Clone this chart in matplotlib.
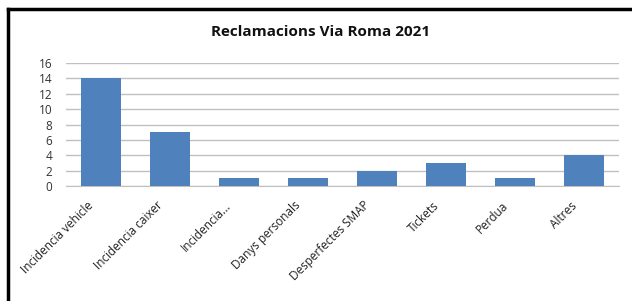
import matplotlib
matplotlib.use("Agg")
import matplotlib.pyplot as plt
from matplotlib.lines import Line2D
from matplotlib.transforms import ScaledTranslation, blended_transform_factory

categories = ["Incidencia vehicle", "Incidencia caixer", "Incidencia...",
              "Danys personals", "Desperfectes SMAP", "Tickets", "Perdua", "Altres"]
values = [14, 7, 1, 1, 2, 3, 1, 4]
yticks = [0, 2, 4, 6, 8, 10, 12, 14, 16]

plt.rcParams['font.family'] = ['Open Sans', 'DejaVu Sans']

W, H = 632, 301
fig = plt.figure(figsize=(W / 100, H / 100), dpi=100)
ax = fig.add_axes([66 / W, 1 - 186 / H, (619 - 66) / W, (186 - 63) / H])

x = list(range(len(categories)))
ax.bar(x, values, width=0.58, color='#4F81BD', zorder=3)
ax.set_xlim(-0.5, len(categories) - 0.5)
ax.set_ylim(0, 16)
ax.set_yticks(yticks)
ax.set_yticklabels([str(t) for t in yticks], fontsize=8.5, color='#333333')
ax.set_xticks(x)
ax.set_xticklabels([])

# rotated category labels, ends placed just under the bar centres
trans = blended_transform_factory(ax.transData, ax.transAxes) + \
    ScaledTranslation(-14 / 100, -13 / 100, fig.dpi_scale_trans)
for xi, name in zip(x, categories):
    ax.text(xi, 0, name, transform=trans, rotation=45, ha='right', va='top',
            rotation_mode='anchor', fontsize=8.5, color='#222222')

ax.grid(axis='y', color='#C0C0C0', linewidth=1, zorder=0)
for s in ['top', 'right', 'left']:
    ax.spines[s].set_visible(False)
ax.spines['bottom'].set_color('#C0C0C0')
ax.tick_params(axis='y', length=0, pad=10)
ax.tick_params(axis='x', length=0)

fig.text(321 / W, 1 - 32 / H, "Reclamacions Via Roma 2021", ha='center', va='center',
         fontsize=11, fontweight='bold', color='#111111')

# black frame around the chart
fig.add_artist(Line2D([8 / W, 1], [1 - 9 / H, 1 - 9 / H], color='black', linewidth=2.5,
                      transform=fig.transFigure))
fig.add_artist(Line2D([8 / W, 8 / W], [0, 1 - 9 / H], color='black', linewidth=2.5,
                      transform=fig.transFigure))

fig.savefig("out.png", dpi=100)
